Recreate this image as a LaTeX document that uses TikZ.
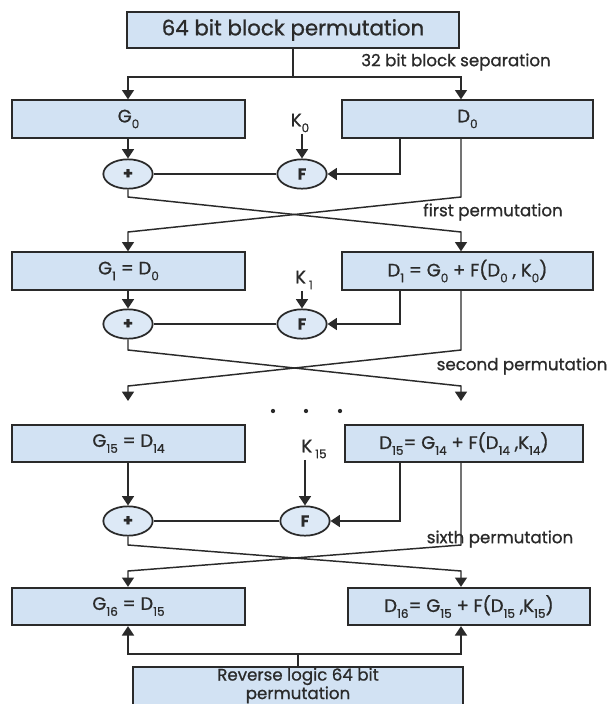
\documentclass[tikz,border=0pt]{standalone}
\usepackage{fontspec}
\setmainfont{Poppins}[FakeBold=0.9]
\usetikzlibrary{arrows.meta,shapes.geometric,calc}
\definecolor{boxfill}{HTML}{D2E2F3}
\definecolor{cirfill}{HTML}{DDE9F6}
\definecolor{ink}{HTML}{2A2A2A}
\newcommand\dsub[1]{\raisebox{-0.6ex}{\small #1}}
\begin{document}
\begin{tikzpicture}[x=0.75pt,y=-0.75pt,
  bx/.style={draw=ink,line width=1.5pt,fill=boxfill,text=ink,minimum height=28pt,inner sep=2pt,font=\fontsize{13.5}{15}\selectfont},
  op/.style={ellipse,draw=ink,line width=1.3pt,fill=cirfill,text=ink,minimum width=37pt,minimum height=22pt,inner sep=0pt,font=\fontsize{12}{13}\selectfont\bfseries},
  klab/.style={text=ink,inner sep=1pt,font=\fontsize{13.5}{15}\selectfont},
  lab/.style={text=ink,inner sep=1pt,font=\fontsize{12.5}{14}\selectfont},
  ln/.style={draw=ink,line width=1.1pt},
  arr/.style={ln,-{Triangle[width=9pt,length=7pt]}}]
\useasboundingbox (0,0) rectangle (607,704);
\clip (0,0) rectangle (607,704);
% reference x positions
\coordinate (L) at (128,0);
\coordinate (R) at (461,0);
\coordinate (M) at (400,0);
% boxes
\node[bx,minimum width=249pt,minimum height=27pt,font=\fontsize{16}{18}\selectfont] (top) at (293,30) {64 bit block permutation};
\node[bx,minimum width=174.75pt] (G0) at (128.5,119) {G\dsub{0}};
\node[bx,minimum width=188.25pt] (D0) at (467.5,119) {D\dsub{0}};
\node[bx,minimum width=174.75pt] (G1) at (128.5,271) {G\dsub{1} = D\dsub{0}};
\node[bx,minimum width=188.25pt] (D1) at (467.5,271) {D\dsub{1} = G\dsub{0} + F(D\dsub{0} , K\dsub{0})};
\node[bx,minimum width=174.75pt] (G15) at (128.5,443.5) {G\dsub{15} = D\dsub{14}};
\node[bx,minimum width=178.5pt] (D15) at (464,443.5) {D\dsub{15}= G\dsub{14} + F(D\dsub{14} ,K\dsub{14})};
\node[bx,minimum width=174.75pt] (G16) at (128.5,606.5) {G\dsub{16} = D\dsub{15}};
\node[bx,minimum width=181.5pt] (D16) at (469,606.5) {D\dsub{16}= G\dsub{15} + F(D\dsub{15} ,K\dsub{15})};
\node[draw=ink,line width=1.5pt,fill=boxfill,minimum width=247.5pt,minimum height=40pt,anchor=north,inner sep=0pt] (bot) at (298,666) {};
\node[text=ink,align=center,anchor=north,inner sep=0pt,font=\fontsize{12.5}{10.8}\selectfont] (botlbl) at ([yshift=-1.2pt]bot.north) {Reverse logic 64 bit\\permutation};
% operators
\node[op] (P0) at (128,174) {+};
\node[op] (F0) at (302,174) {F};
\node[op] (P1) at (128,324) {+};
\node[op] (F1) at (302,324) {F};
\node[op] (P15) at (128,521) {+};
\node[op] (F15) at (305,521) {F};
% keys
\node[klab] (K0) at (300,123) {K\dsub{0}};
\node[klab] (K1) at (304,280) {K\,\dsub{1}};
\node[klab] (K15) at (314,449) {K\,\dsub{15}};
% labels
\node[lab] (l0) at (456,62) {32 bit block separation};
\node[lab] (l1) at (493,212) {first permutation};
\node[lab,anchor=east] (l2) at (609,366) {second permutation};
\node[lab] (l3) at (500,539) {sixth permutation};
% separation
\coordinate (sp) at (293,77);
\draw[ln] (top.south) -- (sp);
\draw[arr] (sp) -| (G0.north -| L);
\draw[arr] (sp) -| (D0.north -| R);
% round 1
\draw[arr] (G0.south -| L) -- (P0.north);
\draw[arr] (F0.north |- K0.south) -- (F0.north);
\draw[arr] (D0.south -| M) |- (F0.east);
\draw[ln] (F0.west) -- (P0.east);
\coordinate (c1a) at (128,197); \coordinate (c1b) at (461,197);
\coordinate (c1c) at (128,232); \coordinate (c1d) at (461,232);
\draw[arr] (P0.south) -- (c1a) -- (c1d) -- (D1.north -| R);
\draw[arr] (D0.south -| R) -- (c1b) -- (c1c) -- (G1.north -| L);
% round 2
\draw[arr] (G1.south -| L) -- (P1.north);
\draw[arr] (F1.north |- K1.south) -- (F1.north);
\draw[arr] (D1.south -| M) |- (F1.east);
\draw[ln] (F1.west) -- (P1.east);
\coordinate (c2a) at (128,350); \coordinate (c2b) at (461,350);
\coordinate (c2c) at (128,386); \coordinate (c2d) at (461,386);
\coordinate (e1) at (128,401); \coordinate (e2) at (461,401);
\draw[arr] (P1.south) -- (c2a) -- (c2d) -- (e2);
\draw[arr] (D1.south -| R) -- (c2b) -- (c2c) -- (e1);
% dots
\foreach \xx/\nm in {273/d1,306/d2,340/d3}
  \fill[ink] (\xx,411) circle (1.6pt) coordinate (\nm);
% round 16
\draw[arr] (G15.south -| L) -- (P15.north);
\draw[arr] (F15.north |- K15.south) -- (F15.north);
\draw[arr] (D15.south -| M) |- (F15.east);
\draw[ln] (F15.west) -- (P15.east);
\coordinate (c3a) at (128,545); \coordinate (c3b) at (461,545);
\coordinate (c3c) at (128,571); \coordinate (c3d) at (461,571);
\draw[arr] (P15.south) -- (c3a) -- (c3d) -- (D16.north -| R);
\draw[arr] (D15.south -| R) -- (c3b) -- (c3c) -- (G16.north -| L);
% final
\coordinate (bj) at (298,654);
\draw[ln] (bot.north) -- (bj);
\draw[arr] (bj) -| (G16.south -| L);
\draw[arr] (bj) -| (D16.south -| R);
\end{tikzpicture}
\end{document}
